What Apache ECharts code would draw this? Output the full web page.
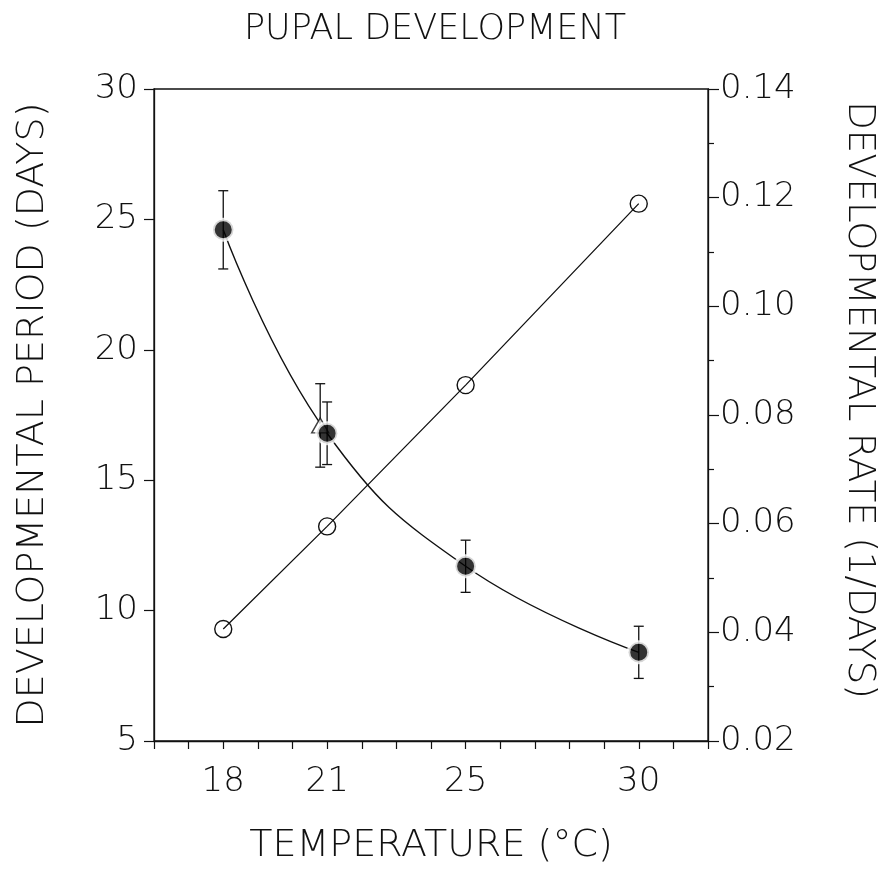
<!DOCTYPE html>
<html>
<head>
<meta charset="utf-8">
<title>Pupal development</title>
<script src="https://cdn.jsdelivr.net/npm/echarts@6/dist/echarts.min.js"></script>
<style>
  html, body { margin: 0; padding: 0; background: #fff; }
  #chart { width: 895px; height: 870px; }
</style>
</head>
<body>
<div id="chart"></div>
<script>
// Rearing temperatures (°C)
const temps = [18, 21, 25, 30];
// Mean pupal period (days) and its error (± days)
const periodDays = [24.6, 16.8, 11.7, 8.4];
const periodErr = [1.5, 1.2, 1.0, 1.0];
// Development rate (1/days)
const rate = [0.0406, 0.0595, 0.0855, 0.1189];
// Comparison observation near 21 °C (open triangle)
const refTemp = [20.8];
const refPeriod = [17.1];
const refErr = [1.6];
// Temperatures that carry a tick label
const xTickLabels = [18, 21, 25, 30];

const ink = '#111';
const font = "'DejaVu Sans', sans-serif";
// thin lettering throughout
const titleWeight = '200';
const tickWeight = '200';

const periodPts = temps.map((t, i) => [t, periodDays[i]]);
const ratePts = temps.map((t, i) => [t, rate[i]]);
const periodBars = temps.map((t, i) => [t, periodDays[i] - periodErr[i], periodDays[i] + periodErr[i]]);
const refPts = refTemp.map((t, i) => [t, refPeriod[i]]);
const refBars = refTemp.map((t, i) => [t, refPeriod[i] - refErr[i], refPeriod[i] + refErr[i]]);

function errorBar(params, api) {
  const x = api.value(0);
  const lo = api.coord([x, api.value(1)]);
  const hi = api.coord([x, api.value(2)]);
  const cap = 5;
  const st = { stroke: ink, lineWidth: 1.3 };
  return {
    type: 'group',
    children: [
      { type: 'line', shape: { x1: hi[0], y1: hi[1], x2: lo[0], y2: lo[1] }, style: st },
      { type: 'line', shape: { x1: hi[0] - cap, y1: hi[1], x2: hi[0] + cap, y2: hi[1] }, style: st },
      { type: 'line', shape: { x1: lo[0] - cap, y1: lo[1], x2: lo[0] + cap, y2: lo[1] }, style: st }
    ]
  };
}

const chart = echarts.init(document.getElementById('chart'), null, { renderer: 'canvas' });
chart.setOption({
  animation: false,
  backgroundColor: '#fff',
  title: {
    text: 'PUPAL DEVELOPMENT',
    left: 430,
    top: 7,
    textAlign: 'center',
    textStyle: { fontFamily: font, fontWeight: titleWeight, fontSize: 35, color: ink }
  },
  grid: {
    left: 154, right: 187, top: 89, bottom: 122,
    show: true, borderColor: ink, borderWidth: 1.3, backgroundColor: 'transparent'
  },
  xAxis: {
    type: 'value',
    min: 16, max: 32, interval: 1,
    name: 'TEMPERATURE (°C)',
    nameLocation: 'middle',
    nameGap: 86,
    nameTextStyle: { fontFamily: font, fontWeight: titleWeight, fontSize: 38, color: ink },
    axisLine: { lineStyle: { color: ink, width: 1.3 } },
    axisTick: { length: 8, lineStyle: { color: ink, width: 1.2 } },
    axisLabel: {
      margin: 24,
      fontFamily: font, fontWeight: tickWeight, fontSize: 34, color: ink,
      formatter: v => (xTickLabels.includes(v) ? String(v) : '')
    },
    splitLine: { show: false }
  },
  yAxis: [
    {
      type: 'value',
      position: 'left',
      min: 5, max: 30, interval: 5,
      name: 'DEVELOPMENTAL PERIOD (DAYS)',
      nameLocation: 'middle',
      nameGap: 102,
      nameRotate: 90,
      nameTextStyle: { fontFamily: font, fontWeight: titleWeight, fontSize: 38, color: ink },
      axisLine: { lineStyle: { color: ink, width: 1.3 } },
      axisTick: { length: 10, lineStyle: { color: ink, width: 1.2 } },
      axisLabel: { margin: 16, fontFamily: font, fontWeight: tickWeight, fontSize: 34, color: ink },
      splitLine: { show: false }
    },
    {
      type: 'value',
      position: 'right',
      min: 0.02, max: 0.14, interval: 0.02,
      name: 'DEVELOPMENTAL RATE (1/DAYS)',
      nameLocation: 'middle',
      nameGap: 132,
      nameRotate: -90,
      nameTextStyle: {
        fontFamily: font, fontWeight: titleWeight, fontSize: 37, color: ink,
        padding: [0, 30, 0, 0]
      },
      axisLine: { lineStyle: { color: ink, width: 1.3 } },
      axisTick: { length: 11, lineStyle: { color: ink, width: 1.2 } },
      minorTick: { show: true, splitNumber: 2, length: 6, lineStyle: { color: ink, width: 1.2 } },
      axisLabel: {
        margin: 12, fontFamily: font, fontWeight: tickWeight, fontSize: 34, color: ink,
        formatter: v => v.toFixed(2)
      },
      splitLine: { show: false },
      minorSplitLine: { show: false }
    }
  ],
  series: [
    {
      name: 'period fit',
      type: 'line',
      yAxisIndex: 0,
      data: periodPts,
      smooth: 0.45,
      symbol: 'none',
      lineStyle: { color: ink, width: 1.4 },
      z: 2
    },
    {
      name: 'rate',
      type: 'line',
      yAxisIndex: 1,
      data: ratePts,
      symbol: 'circle',
      symbolSize: 17,
      lineStyle: { color: ink, width: 1.3 },
      itemStyle: { color: 'rgba(0,0,0,0)', borderColor: ink, borderWidth: 1.4 },
      z: 3
    },
    {
      name: 'reference error',
      type: 'custom',
      yAxisIndex: 0,
      data: refBars,
      renderItem: errorBar,
      z: 4
    },
    {
      name: 'reference',
      type: 'scatter',
      yAxisIndex: 0,
      data: refPts,
      symbol: 'triangle',
      symbolSize: [17, 15],
      itemStyle: { color: '#fff', borderColor: ink, borderWidth: 1.4 },
      z: 5
    },
    {
      name: 'period error',
      type: 'custom',
      yAxisIndex: 0,
      data: periodBars,
      renderItem: errorBar,
      z: 6
    },
    {
      name: 'period',
      type: 'scatter',
      yAxisIndex: 0,
      data: periodPts,
      symbol: 'circle',
      symbolSize: 20.5,
      itemStyle: { color: '#000', borderColor: '#fff', borderWidth: 3.5 },
      z: 7
    }
  ]
});
</script>
</body>
</html>
